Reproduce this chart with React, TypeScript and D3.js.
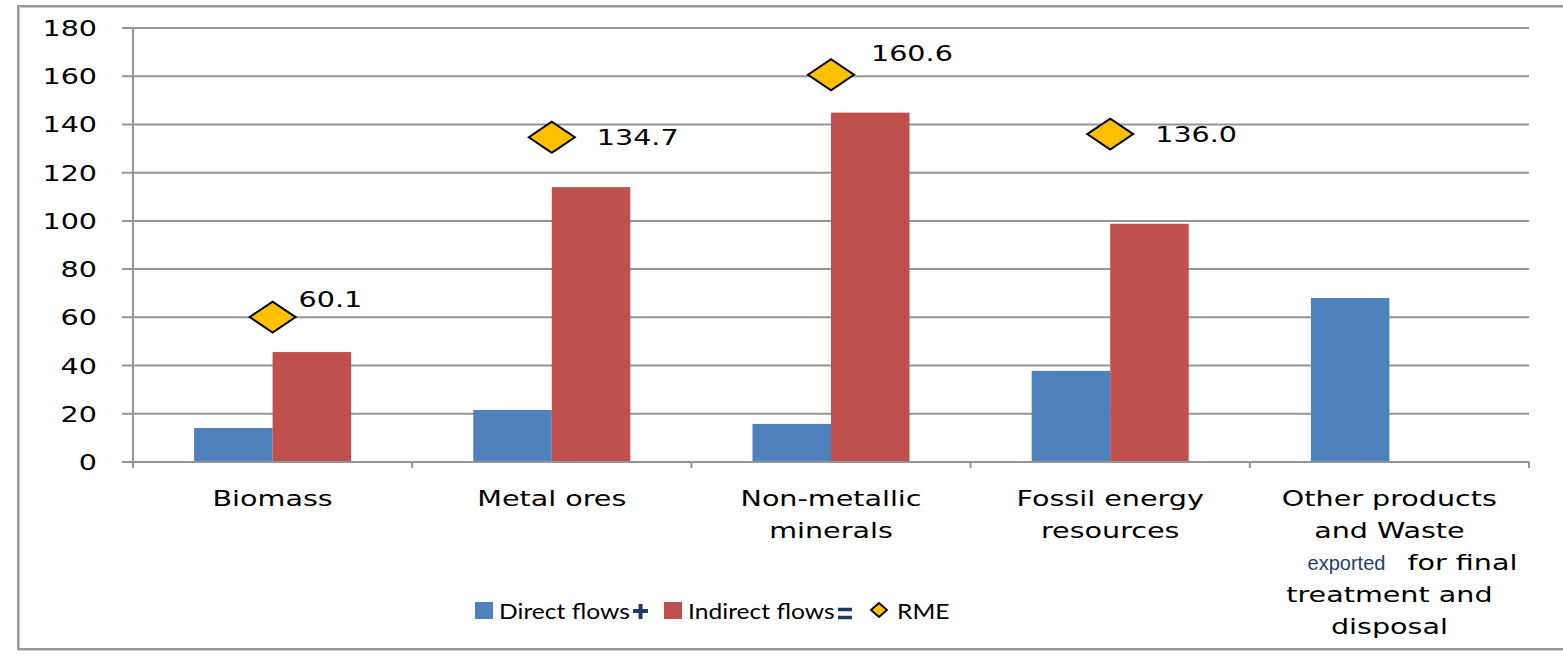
import React from "react";
import * as d3 from "d3";

const categories = ["Biomass", "Metal ores", "Non-metallic minerals", "Fossil energy resources", "Other products and Waste exported for final treatment and disposal"];
const categoryLines: string[][] = [
  ["Biomass"],
  ["Metal ores"],
  ["Non-metallic", "minerals"],
  ["Fossil energy", "resources"],
  ["Other products", "and Waste", "|exported|for final", "treatment and", "disposal"],
];
const seriesNames = ["Direct flows", "Indirect flows"];
const directFlows = [14.1, 21.6, 15.8, 37.8, 68.0];
const indirectFlows = [45.6, 114.0, 144.9, 98.8, 0];
const rme: (number | null)[] = [60.1, 134.7, 160.6, 136.0, null];
const yTicks = [0, 20, 40, 60, 80, 100, 120, 140, 160, 180];

const BLUE = "#4F81BD";
const RED = "#C0504D";
const GOLD = "#FFC000";
const GRID = "#959595";
const VFONT = "'DejaVu Sans', Verdana, sans-serif";
const LFONT = "Lato, 'Liberation Sans', sans-serif";
const SX = 1.3;

function T({ x, y, anchor = "start", sx = SX, size = 22, font = VFONT, fill = "#000", children }: any) {
  return (
    <text
      transform={`translate(${x},${y}) scale(${sx},1)`}
      textAnchor={anchor}
      fontFamily={font}
      fontSize={size}
      fill={fill}
    >
      {children}
    </text>
  );
}

// per-label offsets for the RME value labels (dx from diamond centre, baseline dy)
const rmeLabelOffset = [
  [26, -10],
  [45, 8],
  [40, -14],
  [45, 8],
  [0, 0],
];

export default function App() {
  const left = 133, right = 1529, top = 28, bottom = 462;
  const y = d3.scaleLinear().domain([0, 180]).range([bottom, top]);
  const x0 = d3.scaleBand<string>().domain(categories).range([left, right]).padding(0);
  const x1 = d3.scaleBand<string>().domain(seriesNames).range([0, x0.bandwidth()]).paddingInner(0).paddingOuter(0.778);
  const seriesValues = [directFlows, indirectFlows];
  const colors = [BLUE, RED];
  const diamond = (cx: number, cy: number, w: number, h: number) =>
    `M${cx - w / 2},${cy}L${cx},${cy - h / 2}L${cx + w / 2},${cy}L${cx},${cy + h / 2}Z`;

  const boundaries = [...categories.map((c) => x0(c)!), right];

  return (
    <svg width={1563} height={656} style={{ position: "absolute", left: 0, top: 0, background: "#fff" }}>
      {/* outer border */}
      <rect x={19} y={7} width={1600} height={643} fill="none" stroke="#c8c8c8" strokeWidth={2} />
      <rect x={18} y={6} width={1600} height={643} fill="none" stroke="#999" strokeWidth={2} />

      {/* gridlines + y ticks */}
      {yTicks.map((t) => (
        <g key={t}>
          <line x1={122} x2={right} y1={y(t)} y2={y(t)} stroke={GRID} strokeWidth={2} />
          <T x={97} y={y(t) + 8} anchor="end">{t}</T>
        </g>
      ))}
      {/* y axis */}
      <line x1={left} x2={left} y1={top} y2={bottom + 5} stroke={GRID} strokeWidth={2} />
      {/* x ticks */}
      {boundaries.map((b, i) => (
        <line key={i} x1={b} x2={b} y1={bottom} y2={bottom + 6} stroke={GRID} strokeWidth={2} />
      ))}

      {/* bars */}
      {categories.map((c, i) =>
        seriesNames.map((s, j) => {
          const v = seriesValues[j][i];
          if (!v) return null;
          return (
            <rect
              key={c + s}
              x={x0(c)! + x1(s)!}
              y={y(v)}
              width={x1.bandwidth()}
              height={y(0) - y(v)}
              fill={colors[j]}
            />
          );
        })
      )}
      <line x1={left} x2={right} y1={bottom} y2={bottom} stroke={GRID} strokeWidth={2} />

      {/* RME diamonds */}
      {categories.map((c, i) => {
        const v = rme[i];
        if (v == null) return null;
        const cx = x0(c)! + x0.bandwidth() / 2;
        const cy = y(v);
        const [dx, dy] = rmeLabelOffset[i];
        return (
          <g key={c}>
            <path d={diamond(cx, cy, 46, 31)} fill={GOLD} stroke="#000" strokeWidth={2} />
            <T x={cx + dx} y={cy + dy}>{v.toFixed(1)}</T>
          </g>
        );
      })}

      {/* category labels */}
      {categories.map((c, i) => {
        const cx = x0(c)! + x0.bandwidth() / 2;
        return (
          <g key={c}>
            {categoryLines[i].map((ln, k) => {
              const by = 506 + k * 32;
              if (ln.startsWith("|")) {
                const parts = ln.split("|");
                return (
                  <g key={k}>
                    <T x={cx - 4} y={by} anchor="end" sx={1} size={20} font="'Liberation Sans', Arial, sans-serif" fill="#1F3F6A">{parts[1]}</T>
                    <T x={cx + 18} y={by}>{parts[2]}</T>
                  </g>
                );
              }
              return <T key={k} x={cx} y={by} anchor="middle">{ln}</T>;
            })}
          </g>
        );
      })}

      {/* legend */}
      <rect x={475} y={602} width={18} height={17} fill={BLUE} />
      <T x={499} y={619} sx={1.12} size={22} font={LFONT}>Direct flows</T>
      <path d="M633,611H648M640.5,604V619" stroke="#1F3864" strokeWidth={4} />
      <rect x={664} y={602} width={18} height={17} fill={RED} />
      <T x={688} y={619} sx={1.12} size={22} font={LFONT}>Indirect flows</T>
      <path d="M838,609.5H852M838,617.5H852" stroke="#1F3864" strokeWidth={3.5} />
      <path d={diamond(879, 610, 16, 14)} fill={GOLD} stroke="#000" strokeWidth={1.8} />
      <T x={897} y={619} sx={1.12} size={22} font={LFONT}>RME</T>
    </svg>
  );
}
